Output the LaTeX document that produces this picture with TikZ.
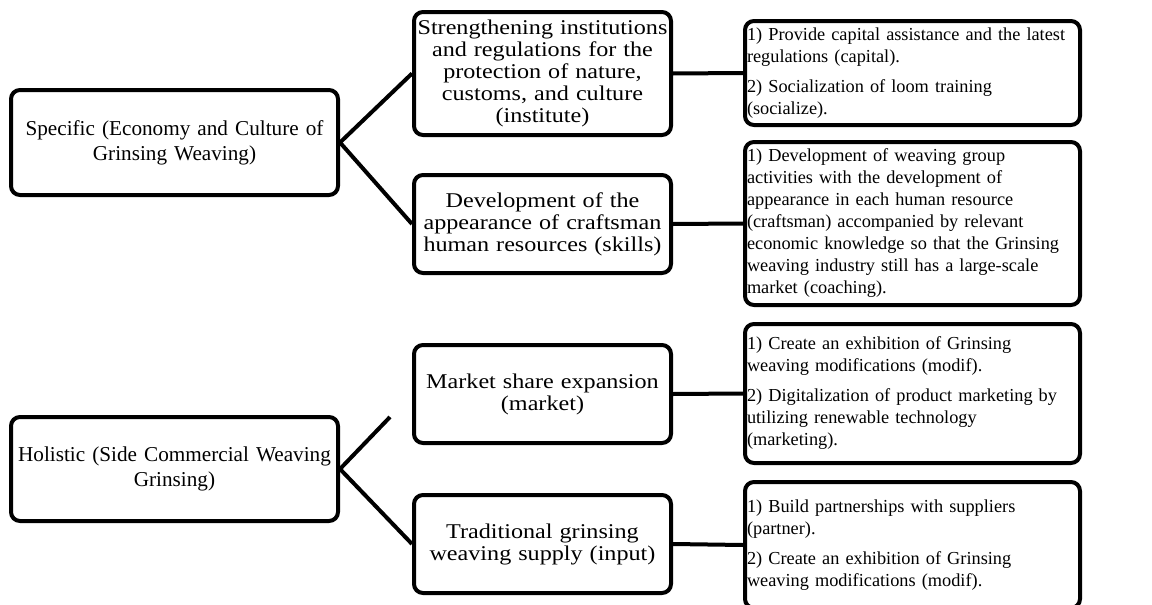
\documentclass[tikz,border=0pt]{standalone}
\usepackage{fontspec}
\setmainfont{Liberation Serif}
\newfontfamily\midfont[FakeStretch=1.15]{Liberation Serif}
\hyphenpenalty=10000
\begin{document}
\begin{tikzpicture}[x=1pt,y=-1pt,
  box/.style={draw=black, line width=4pt, rounded corners=9pt, fill=white, inner sep=0pt},
  leftbox/.style={box, minimum width=327pt, minimum height=105pt, align=center, text width=324pt,
     font=\fontsize{21.2}{25}\selectfont},
  midbox/.style={box, minimum width=257pt, minimum height=98pt, align=center, text width=256pt,
     font=\midfont\fontsize{21}{22}\selectfont},
  rightbox/.style={box, minimum width=335pt, align=left, text width=331pt, inner xsep=2pt,
     font=\fontsize{18.3}{22}\selectfont},
  link/.style={line width=4pt}]
\useasboundingbox (0,0) rectangle (1152,605);

\node[leftbox] (L1) at (174.5,142.5) {Specific (Economy and Culture of\\ Grinsing Weaving)};
\node[leftbox, minimum height=104pt] (L2) at (174.5,469) {Holistic (Side Commercial Weaving\\ Grinsing)};

\node[midbox, minimum height=123pt] (M1) at (542.5,73.5) {Strengthening institutions\\ and regulations for the\\ protection of nature,\\ customs, and culture\\ (institute)};
\node[midbox] (M2) at (542.5,224) {Development of the\\ appearance of craftsman\\ human resources (skills)};
\node[midbox] (M3) at (542.5,394) {Market share expansion\\ (market)};
\node[midbox] (M4) at (542.5,544) {Traditional grinsing\\ weaving supply (input)};

\node[rightbox, minimum height=104pt] (R1) at (912.5,73) {1) Provide capital assistance and the latest\\ regulations (capital).\\[8pt] 2) Socialization of loom training\\ (socialize).};
\node[rightbox, minimum height=163pt] (R2) at (912.5,223.5) {1) Development of weaving group\\ activities with the development of\\ appearance in each human resource\\ (craftsman) accompanied by relevant\\ economic knowledge so that the Grinsing\\ weaving industry still has a large-scale\\ market (coaching).};
\node[rightbox, minimum height=139pt] (R3) at (912.5,393.5) {1) Create an exhibition of Grinsing\\ weaving modifications (modif).\\[8pt] 2) Digitalization of product marketing by\\ utilizing renewable technology\\ (marketing).};
\node[rightbox, minimum height=126pt] (R4) at (912.5,545) {1) Build partnerships with suppliers\\ (partner).\\[8pt] 2) Create an exhibition of Grinsing\\ weaving modifications (modif).};

\coordinate (hend) at (390,417);
\draw[link] (L1.east) -- (M1.west);
\draw[link] (L1.east) -- (M2.west);
\draw[link] (L2.east) -- (hend);
\draw[link] (L2.east) -- (M4.west);
\draw[link] (M1.east) -- (R1.west);
\draw[link] (M2.east) -- (R2.west);
\draw[link] (M3.east) -- (R3.west);
\draw[link] (M4.east) -- (R4.west);
\end{tikzpicture}
\end{document}
